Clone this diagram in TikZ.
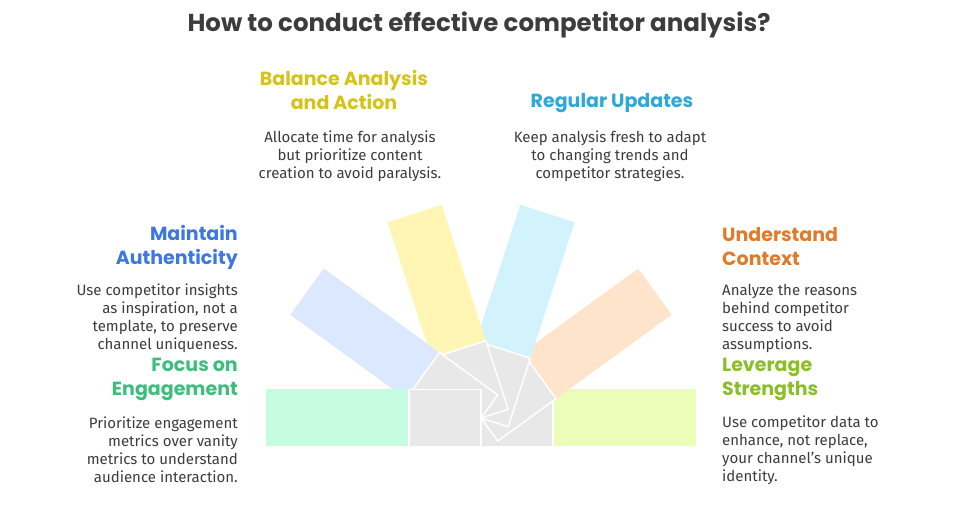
\documentclass[tikz,border=0pt]{standalone}
\usepackage{fontspec}
\setmainfont{Fira Sans}
\newfontfamily\headfont{Poppins}
\definecolor{txt}{HTML}{3C3C3C}
\definecolor{cgreen}{HTML}{C6FCE0}
\definecolor{cblue}{HTML}{DCE8FD}
\definecolor{cyellow}{HTML}{FFF6B6}
\definecolor{ccyan}{HTML}{D2F3FC}
\definecolor{corange}{HTML}{FFE4CC}
\definecolor{clime}{HTML}{EBFDB9}
\definecolor{cgray}{HTML}{E8E8E8}
\definecolor{tgreen}{HTML}{3DBE7C}
\definecolor{tblue}{HTML}{3C78E0}
\definecolor{tyellow}{HTML}{D5C31A}
\definecolor{tcyan}{HTML}{2EA8D6}
\definecolor{torange}{HTML}{E07B2C}
\definecolor{tlime}{HTML}{8CBE2C}
\tikzset{
  head/.style={font=\headfont\bfseries\fontsize{19}{24}\selectfont, inner sep=0pt, align=#1},
  body/.style={font=\fontsize{15}{18}\selectfont, text=txt, inner sep=0pt, align=#1},
  arm/.style={draw=white, line width=1.5pt}
}
\newcommand{\arm}[2]{%
  \begin{scope}[shift={(481,90)}, rotate=#1]
    \fill[#2] (72,-28.5) rectangle (215,28.5);
    \draw[arm, fill=cgray] (0,-28.5) rectangle (72,28.5);
  \end{scope}}
\begin{document}
\begin{tikzpicture}[x=1pt,y=1pt]
\useasboundingbox (0,0) rectangle (956,508);
\arm{0}{clime}
\arm{36}{corange}
\arm{72}{ccyan}
\arm{108}{cyellow}
\arm{144}{cblue}
\arm{180}{cgreen}
\node[font=\headfont\bfseries\fontsize{24.5}{28}\selectfont, text=txt] (title) at (479,483) {How to conduct effective competitor analysis?};
\node[head=center, text=tyellow] (bah) at (344,418) {Balance Analysis\\and Action};
\node[body=center] (bab) at (350,352) {Allocate time for analysis\\but prioritize content\\creation to avoid paralysis.};
\node[head=center, text=tcyan] (ruh) at (612,405) {Regular Updates};
\node[body=center] (rub) at (610,352) {Keep analysis fresh to adapt\\to changing trends and\\competitor strategies.};
\node[head=right, text=tblue, anchor=east] (mah) at (238,261) {Maintain\\Authenticity};
\node[body=right, anchor=east] (mab) at (238,190) {Use competitor insights\\as inspiration, not a\\template, to preserve\\channel uniqueness.};
\node[head=right, text=tgreen, anchor=east] (feh) at (238,129) {Focus on\\Engagement};
\node[body=right, anchor=east] (feb) at (238,58) {Prioritize engagement\\metrics over vanity\\metrics to understand\\audience interaction.};
\node[head=left, text=torange, anchor=west] (uch) at (722,261) {Understand\\Context};
\node[body=left, anchor=west] (ucb) at (722,190) {Analyze the reasons\\behind competitor\\success to avoid\\assumptions.};
\node[head=left, text=tlime, anchor=west] (lsh) at (722,129) {Leverage\\Strengths};
\node[body=left, anchor=west] (lsb) at (722,58) {Use competitor data to\\enhance, not replace,\\your channel's unique\\identity.};
\end{tikzpicture}
\end{document}
